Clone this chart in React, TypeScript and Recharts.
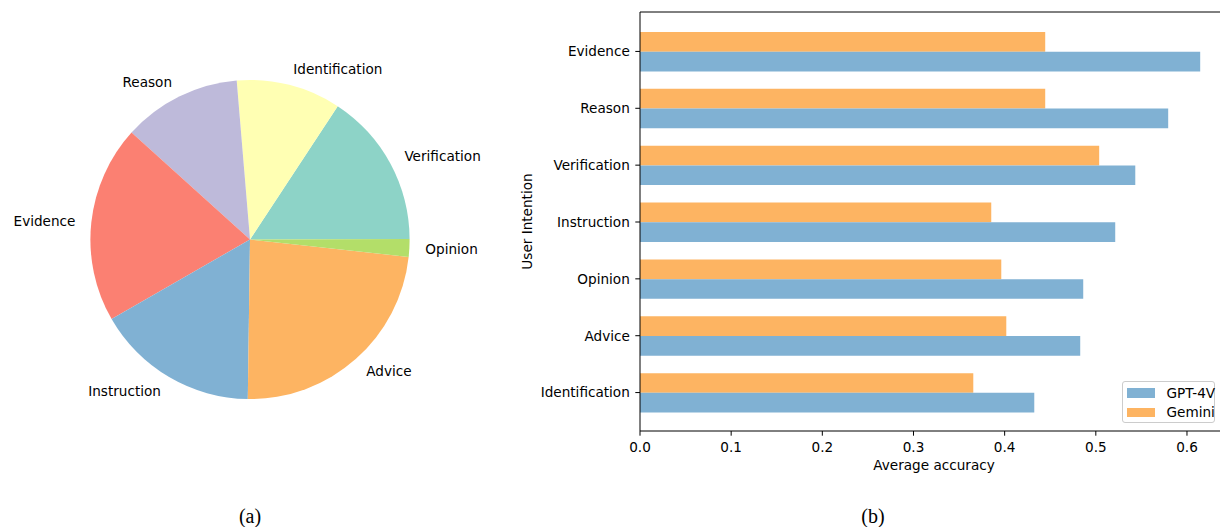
import React from 'react';
import { PieChart, Pie, Cell, BarChart, Bar, XAxis, YAxis, Label } from 'recharts';

// ---- Pie (a) data ----
const pieLabels = ['Verification', 'Identification', 'Reason', 'Evidence', 'Instruction', 'Advice', 'Opinion'];
const pieValues = [15.7, 10.6, 12.0, 20.0, 16.5, 23.5, 1.8];
const pieColors = ['#8dd3c7', '#ffffb3', '#bebada', '#fb8072', '#80b1d3', '#fdb462', '#b3de69'];

// ---- Bar (b) data ----
const intentions = ['Evidence', 'Reason', 'Verification', 'Instruction', 'Opinion', 'Advice', 'Identification'];
const gpt4vAcc = [0.6145, 0.5794, 0.5433, 0.5213, 0.4862, 0.4829, 0.4325];
const geminiAcc = [0.4445, 0.4445, 0.5037, 0.3853, 0.3963, 0.4018, 0.3656];
const xTicks = [0, 0.1, 0.2, 0.3, 0.4, 0.5, 0.6];
const seriesNames = ['GPT-4V', 'Gemini'];
const seriesColors = ['#80b1d3', '#fdb462'];

const pieData = pieLabels.map((name, i) => ({ name, value: pieValues[i] }));
const barData = intentions.map((intention, i) => ({ intention, gpt4v: gpt4vAcc[i], gemini: geminiAcc[i] }));

const FONT = "'DejaVu Sans', sans-serif";
const FS = 13.6;
const RAD = Math.PI / 180;

const renderPieLabel = (p: any) => {
  const r = p.outerRadius * 1.1;
  const x = p.cx + r * Math.cos(-p.midAngle * RAD);
  const y = p.cy + r * Math.sin(-p.midAngle * RAD);
  const name = (p.payload && p.payload.name) || p.name;
  return (
    <text x={x} y={y} textAnchor={x > p.cx ? 'start' : 'end'} dominantBaseline="central"
      fontFamily={FONT} fontSize={FS} fill="#000">
      {name}
    </text>
  );
};

const tickStyle = { fill: '#000', fontSize: FS, fontFamily: FONT };

export default function App() {
  return (
    <div style={{ position: 'fixed', left: 0, top: 0, width: 1220, height: 527, overflow: 'hidden', background: '#fff' }}>
      <div style={{ position: 'absolute', left: 0, top: 0 }}>
        <PieChart width={500} height={480} margin={{ top: 0, right: 0, bottom: 0, left: 0 }}>
          <Pie data={pieData} dataKey="value" nameKey="name" cx={250} cy={239.5} outerRadius={159.6}
            startAngle={0.2} endAngle={360.2} stroke="none" label={renderPieLabel} labelLine={false}
            isAnimationActive={false}>
            {pieData.map((d, i) => (
              <Cell key={d.name} fill={pieColors[i]} stroke="none" />
            ))}
          </Pie>
        </PieChart>
      </div>

      <div style={{ position: 'absolute', left: 500, top: 0 }}>
        <BarChart width={728} height={480} data={barData} layout="vertical"
          margin={{ top: 11, right: 0, bottom: 0, left: 0 }} barGap={0} barSize={19.7}>
          <XAxis type="number" xAxisId="bottom" domain={[0, 0.645]} ticks={xTicks} allowDataOverflow
            tickFormatter={(v: number) => v.toFixed(1)} height={49}
            axisLine={{ stroke: '#000', strokeWidth: 1 }} tickLine={{ stroke: '#000', strokeWidth: 1 }}
            tickSize={4.7} tickMargin={6.5} tick={tickStyle}>
            <Label content={(props: any) => {
              const vb = props.viewBox || { x: 140, y: 431, width: 588 };
              return (
                <text x={vb.x + vb.width / 2} y={vb.y + 39} textAnchor="middle" fontFamily={FONT}
                  fontSize={FS} fill="#000">Average accuracy</text>
              );
            }} />
          </XAxis>
          <XAxis type="number" xAxisId="top" orientation="top" domain={[0, 0.645]} allowDataOverflow
            height={1} tick={false} tickLine={false} axisLine={{ stroke: '#000', strokeWidth: 1 }} />
          <YAxis type="category" dataKey="intention" width={140} padding={{ top: 11, bottom: 10 }}
            axisLine={{ stroke: '#000', strokeWidth: 1 }} tickLine={{ stroke: '#000', strokeWidth: 1 }}
            tickSize={4.7} tickMargin={5.5} tick={tickStyle} interval={0}>
            <Label content={(props: any) => {
              const vb = props.viewBox || { x: 0, y: 12, height: 419 };
              const cx = 26.5;
              const cy = vb.y + vb.height / 2;
              return (
                <text x={cx} y={cy} transform={`rotate(-90, ${cx}, ${cy})`} textAnchor="middle"
                  dominantBaseline="central" fontFamily={FONT} fontSize={FS} fill="#000">User Intention</text>
              );
            }} />
          </YAxis>
          <Bar dataKey="gemini" name={seriesNames[1]} xAxisId="bottom" fill={seriesColors[1]} isAnimationActive={false} />
          <Bar dataKey="gpt4v" name={seriesNames[0]} xAxisId="bottom" fill={seriesColors[0]} isAnimationActive={false} />
        </BarChart>
      </div>

      {/* Legend */}
      <div style={{
        position: 'absolute', left: 1122, top: 380.5, width: 93, height: 42, boxSizing: 'border-box',
        border: '1px solid #cccccc', borderRadius: 3, background: 'rgba(255,255,255,0.8)', fontFamily: FONT,
        fontSize: FS, color: '#000'
      }}>
        {seriesNames.map((n, i) => (
          <div key={n} style={{ position: 'absolute', left: 0, top: 2 + i * 19.5, height: 19, width: 93 }}>
            <div style={{ position: 'absolute', left: 4, top: 4.5, width: 28, height: 9.5, background: seriesColors[i] }} />
            <div style={{ position: 'absolute', left: 43.5, top: 0, lineHeight: '18px', whiteSpace: 'nowrap' }}>{n}</div>
          </div>
        ))}
      </div>

      {/* Captions */}
      <svg width={1220} height={527} style={{ position: 'absolute', left: 0, top: 0, pointerEvents: 'none' }}>
        <text x={250} y={516} textAnchor="middle" dominantBaseline="central" fontFamily="'Liberation Serif', serif" fontSize={20} fill="#000">(a)</text>
        <text x={873} y={516} textAnchor="middle" dominantBaseline="central" fontFamily="'Liberation Serif', serif" fontSize={20} fill="#000">(b)</text>
      </svg>
    </div>
  );
}
